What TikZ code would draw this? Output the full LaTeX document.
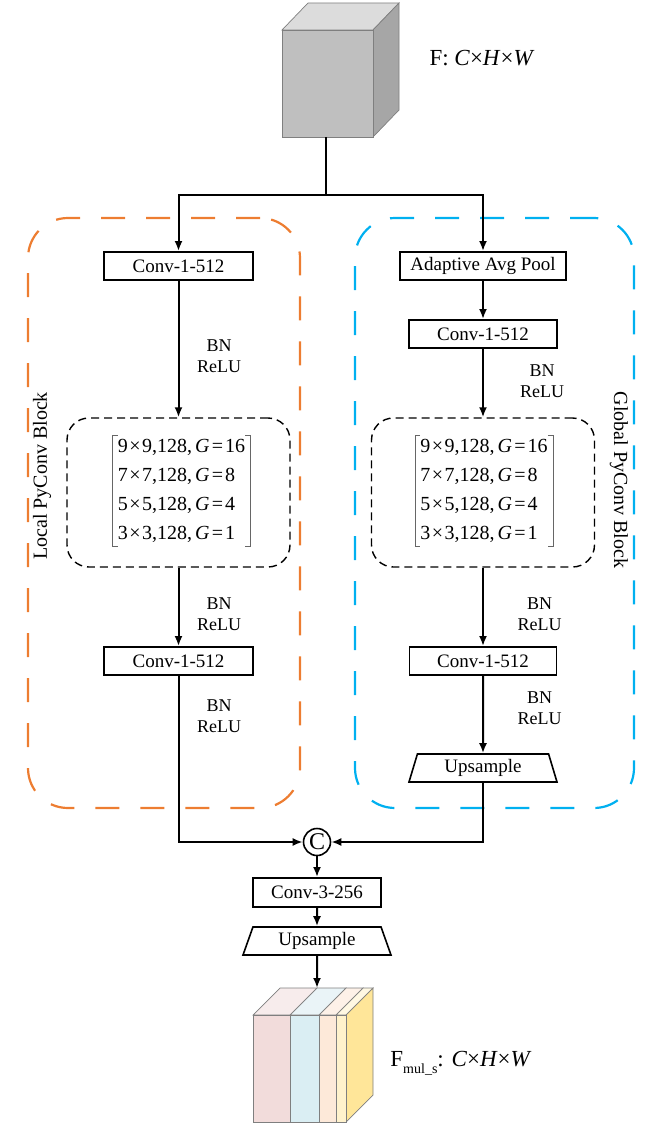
\documentclass[tikz,border=0pt]{standalone}
\usepackage{fontspec}
\setmainfont{Liberation Serif}
\usetikzlibrary{arrows.meta,shapes.geometric,calc}
\definecolor{lorange}{HTML}{ED7D31}
\definecolor{gblue}{HTML}{00B0F0}
\definecolor{cubefront}{HTML}{BFBFBF}
\definecolor{cubetop}{HTML}{DCDCDC}
\definecolor{cuberight}{HTML}{A6A6A6}
\definecolor{edgegray}{HTML}{7F7F7F}
\definecolor{spink}{HTML}{F2DCDB}
\definecolor{spinkt}{HTML}{F7ECEC}
\definecolor{sblue}{HTML}{DAEEF3}
\definecolor{sbluet}{HTML}{EAF4F7}
\definecolor{speach}{HTML}{FDE9D9}
\definecolor{speacht}{HTML}{FDF1E8}
\definecolor{syel}{HTML}{FFF2CC}
\definecolor{syelt}{HTML}{FFF8E3}
\definecolor{syelr}{HTML}{FFE699}
\newcommand{\mrow}[3]{#1\kern1.5pt×\kern1.5pt#1,128,\kern3pt\textit{G}\kern2.5pt=\kern2pt#2}
\begin{document}
\begin{tikzpicture}[x=1pt,y=-1pt,
  opbox/.style={draw,line width=1.9pt,rectangle,minimum height=28pt,inner sep=0pt,font=\fontsize{19}{22}\selectfont},
  upbox/.style={draw,line width=1.6pt,trapezium,trapezium stretches body,minimum height=28pt,inner sep=0pt,font=\fontsize{19}{22}\selectfont},
  pybox/.style={draw,line width=1.4pt,dash pattern=on 8pt off 5pt,rounded corners=22pt,rectangle,inner sep=0pt},
  blockbox/.style={draw,line width=2.2pt,dash pattern=on 24pt off 21pt,rounded corners=40pt,rectangle,inner sep=0pt},
  bnlab/.style={align=center,font=\fontsize{18}{21.5}\selectfont,inner sep=0pt},
  mat/.style={align=left,font=\fontsize{20}{29}\selectfont,inner xsep=5pt,inner ysep=4pt},
  brk/.style={draw=black!60,line width=0.9pt},
  arr/.style={line width=2pt,-{Latex[length=10pt,width=8pt]}},
  ln/.style={line width=2pt},
  cedge/.style={draw=edgegray,line width=0.7pt}
]
\useasboundingbox (0,0) rectangle (664,1124);

% outer blocks
\node[blockbox,draw=lorange,minimum width=272pt,minimum height=590pt] (lblk) at (164,513) {};
\node[blockbox,draw=gblue,minimum width=279pt,minimum height=590pt] (gblk) at (494.5,513) {};
\node[rotate=90,font=\fontsize{20}{24}\selectfont] (llab) at (42,476) {Local PyConv Block};
\node[rotate=-90,font=\fontsize{20}{24}\selectfont] (glab) at (619,480) {Global PyConv Block};

% input cube
\fill[cubetop,cedge] (282,30) -- (373,30) -- (399,3) -- (308,3) -- cycle;
\fill[cuberight,cedge] (373,30) -- (399,3) -- (399,110) -- (373,137) -- cycle;
\node[fill=cubefront,cedge,minimum width=91pt,minimum height=107pt,inner sep=0pt] (cube) at (327.5,83.5) {};
\node[font=\fontsize{23}{26}\selectfont] (flab) at (482,58) {F: \textit{C}×\textit{H}×\textit{W}};

% left branch
\node[opbox,minimum width=149pt] (lconv1) at (178.5,266) {Conv-1-512};
\node[pybox,minimum width=223pt,minimum height=149pt] (lpy) at (178.5,492.5) {};
\node[mat] (lm) at (181.5,491) {\mrow{9}{16}{}\\\mrow{7}{8}{}\\\mrow{5}{4}{}\\\mrow{3}{1}{}};
\node[opbox,minimum width=149pt] (lconv2) at (178.5,661) {Conv-1-512};
\node[bnlab] (lbn1) at (219,356) {BN\\ReLU};
\node[bnlab] (lbn2) at (219,614) {BN\\ReLU};
\node[bnlab] (lbn3) at (219,716) {BN\\ReLU};

% right branch
\node[opbox,minimum width=166pt] (aap) at (483,266) {Adaptive Avg Pool};
\node[opbox,minimum width=148pt] (gconv1) at (483,334) {Conv-1-512};
\node[pybox,minimum width=223pt,minimum height=149pt] (gpy) at (483,492.5) {};
\node[mat] (gm) at (484,491) {\mrow{9}{16}{}\\\mrow{7}{8}{}\\\mrow{5}{4}{}\\\mrow{3}{1}{}};
\node[opbox,minimum width=147pt] (gconv2) at (483,661) {Conv-1-512};
\node[upbox,minimum width=148pt,trapezium left angle=64,trapezium right angle=64] (gup) at (483,768) {Upsample};
\node[bnlab] (gbn1) at (542,381) {BN\\ReLU};
\node[bnlab] (gbn2) at (539.5,614) {BN\\ReLU};
\node[bnlab] (gbn3) at (539.5,708) {BN\\ReLU};

% brackets
\foreach \m in {lm,gm}{
  \draw[brk] ([xshift=5pt]\m.north west) -- (\m.north west) -- (\m.south west) -- ([xshift=5pt]\m.south west);
  \draw[brk] ([xshift=-5pt]\m.north east) -- (\m.north east) -- (\m.south east) -- ([xshift=-5pt]\m.south east);
}

% merge
\node[circle,draw,line width=1.6pt,minimum size=27pt,inner sep=0pt,font=\fontsize{24}{26}\selectfont] (cc) at (317,842) {C};
\node[opbox,minimum width=128pt,minimum height=29pt] (conv3) at (317,892.5) {Conv-3-256};
\node[upbox,minimum width=148pt,trapezium left angle=60,trapezium right angle=60] (up2) at (317,941) {Upsample};

% output block
\coordinate (outtop) at (317,988);
\fill[spinkt,cedge] (253,1015) -- (290,1015) -- (317,988) -- (280,988) -- cycle;
\fill[sbluet,cedge] (290,1015) -- (319,1015) -- (346,988) -- (317,988) -- cycle;
\fill[speacht,cedge] (319,1015) -- (336,1015) -- (363,988) -- (346,988) -- cycle;
\fill[syelt,cedge] (336,1015) -- (346,1015) -- (373,988) -- (363,988) -- cycle;
\fill[syelr,cedge] (346,1015) -- (373,988) -- (373,1095) -- (346,1122) -- cycle;
\fill[spink,cedge] (253,1015) rectangle (290,1122);
\fill[sblue,cedge] (290,1015) rectangle (319,1122);
\fill[speach,cedge] (319,1015) rectangle (336,1122);
\fill[syel,cedge] (336,1015) rectangle (346,1122);
\node[font=\fontsize{23}{26}\selectfont] (olab) at (461,1063) {F\raisebox{-0.3em}{\fontsize{14}{14}\selectfont mul\_s}: \textit{C}×\textit{H}×\textit{W}};

% connectors
\coordinate (cubebot) at (326,137);
\coordinate (split) at (326,195);
\draw[ln] (cubebot) -- (split);
\draw[arr] (split) -| (lconv1.north);
\draw[arr] (split) -| (aap.north);
\draw[arr] (lconv1.south) -- (lpy.north);
\draw[arr] (lpy.south) -- (lconv2.north);
\draw[arr] (lconv2.south) |- (cc.west);
\draw[arr] (aap.south) -- (gconv1.north);
\draw[arr] (gconv1.south) -- (gpy.north);
\draw[arr] (gpy.south) -- (gconv2.north);
\draw[arr] (gconv2.south) -- (gup.north);
\draw[arr] (gup.south) |- (cc.east);
\draw[arr] (cc.south) -- (conv3.north);
\draw[arr] (conv3.south) -- (up2.north);
\draw[arr] (up2.south) -- (outtop);
\end{tikzpicture}
\end{document}
